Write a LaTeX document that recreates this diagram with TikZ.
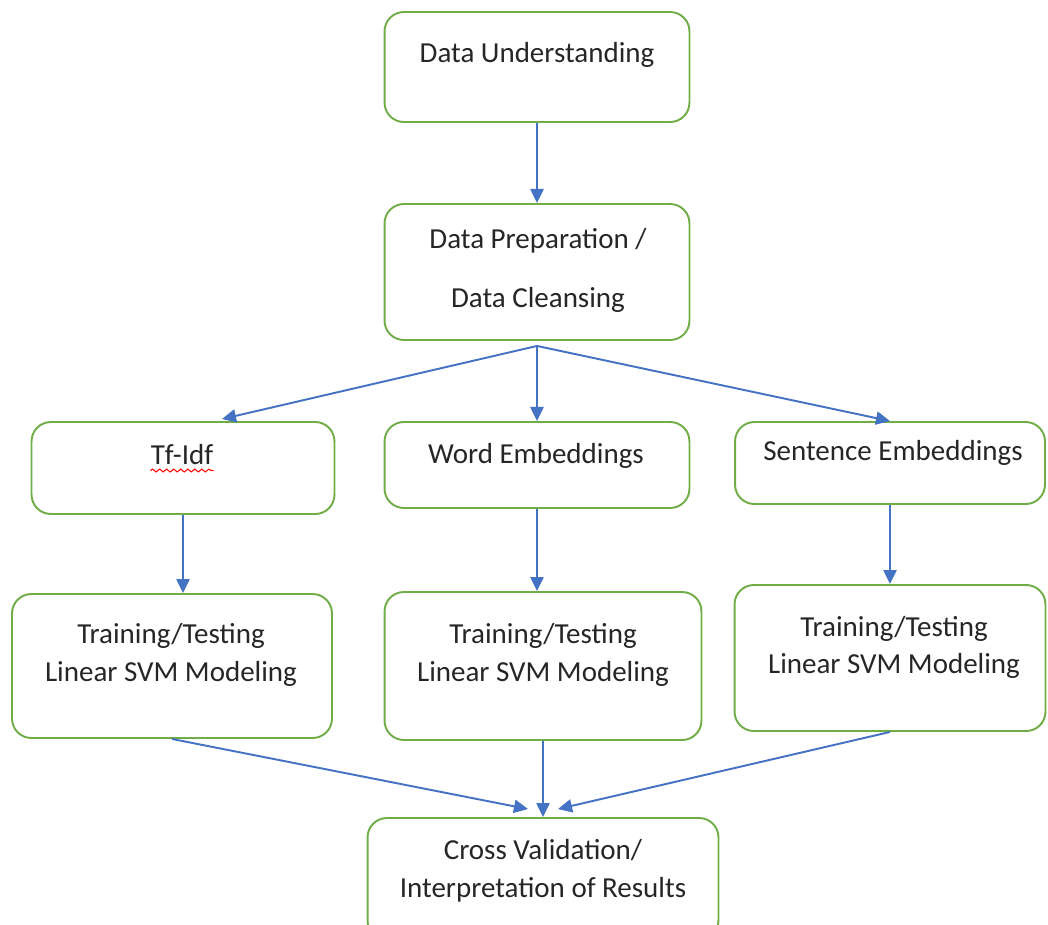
\documentclass[tikz,border=0pt]{standalone}
\usepackage{fontspec}
\setmainfont{Carlito}
\usepackage{tikz}
\usetikzlibrary{arrows.meta,calc,decorations.pathmorphing}
\definecolor{boxgreen}{HTML}{70AD47}
\definecolor{flowblue}{HTML}{4472C4}
\definecolor{inkgray}{HTML}{262626}

\begin{document}
\begin{tikzpicture}[x=0.02cm,y=-0.02cm,font=\fontsize{16.5}{21.5}\selectfont,
  stage/.style={draw=boxgreen,line width=1.1pt,rounded corners=11pt},
  txt/.style={text=inkgray,align=center,inner sep=0pt},
  flow/.style={-{Triangle[length=8pt,width=7.5pt]},flowblue,line width=1.1pt}]
  \clip (0,0) rectangle (1048,924);
  % the boxes
  \node[stage,minimum width=6.1cm,minimum height=2.2cm] (under) at (537,67) {};
  \node[stage,minimum width=6.1cm,minimum height=2.72cm] (prep) at (537,272) {};
  \node[stage,minimum width=6.06cm,minimum height=1.84cm] (tfidf) at (183,468) {};
  \node[stage,minimum width=6.1cm,minimum height=1.72cm] (word) at (537,465) {};
  \node[stage,minimum width=6.2cm,minimum height=1.64cm] (sent) at (890,463) {};
  \node[stage,minimum width=6.4cm,minimum height=2.88cm] (svmA) at (172,666) {};
  \node[stage,minimum width=6.34cm,minimum height=2.96cm] (svmB) at (543,666) {};
  \node[stage,minimum width=6.22cm,minimum height=2.92cm] (svmC) at (890,658) {};
  \node[stage,minimum width=7.02cm,minimum height=2.44cm] (cross) at (543,879) {};
  % their texts
  \node[txt] (underT) at (537,55) {Data Understanding};
  \node[txt] (prepT) at (538,270.5) {Data Preparation /\\[12pt]Data Cleansing};
  \node[txt] (tfidfT) at (182,455) {Tf-Idf};
  \node[txt] (wordT) at (536,456) {Word Embeddings};
  \node[txt] (sentT) at (893,453) {Sentence Embeddings};
  \node[txt] (svmAT) at (171,655) {Training/Testing\\Linear SVM Modeling};
  \node[txt] (svmBT) at (543,655) {Training/Testing\\Linear SVM Modeling};
  \node[txt] (svmCT) at (894,647.5) {Training/Testing\\Linear SVM Modeling};
  \node[txt] (crossT) at (543,871) {Cross Validation/\\Interpretation of Results};
  \draw[red,line width=0.6pt,decorate,decoration={snake,segment length=4pt,amplitude=0.8pt}]
    ($(tfidfT.south west)+(0,5)$) -- ($(tfidfT.south east)+(0,5)$);
  % arrows
  \coordinate (fan) at ($(prep.south)+(0,5)$);
  \draw[flow] (under.south) -- (prep.north);
  \draw[flow] (fan) -- ($(tfidf.north)+(39,-2)$);
  \draw[flow] (fan) -- (word.north);
  \draw[flow] (fan) -- (sent.north);
  \draw[flow] (tfidf.south) -- (tfidf.south |- svmA.north);
  \draw[flow] (word.south) -- (word.south |- svmB.north);
  \draw[flow] (sent.south) -- (sent.south |- svmC.north);
  \draw[flow] (svmA.south) -- ($(cross.north)+(-15,-8)$);
  \draw[flow] (svmB.south) -- (cross.north);
  \draw[flow] (svmC.south) -- ($(cross.north)+(15,-8)$);
\end{tikzpicture}
\end{document}
